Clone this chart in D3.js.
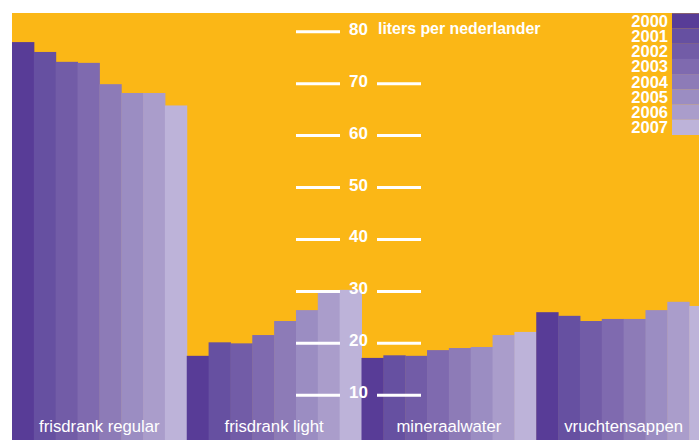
<!DOCTYPE html>
<html>
<head>
<meta charset="utf-8">
<script src="https://cdn.jsdelivr.net/npm/d3@7"></script>
<style>
  html, body { margin: 0; padding: 0; background: #fff; }
  svg { display: block; }
  text { font-family: "Liberation Sans", Arial, sans-serif; fill: #fff; }
</style>
</head>
<body>
<script>
// data (liters per person)
var categories = ['frisdrank regular', 'frisdrank light', 'mineraalwater', 'vruchtensappen']
var years = ['2000', '2001', '2002', '2003', '2004', '2005', '2006', '2007']
var regular = [78.0, 76.1, 74.2, 74.0, 69.9, 68.2, 68.2, 65.8]
var light = [17.6, 20.2, 20.0, 21.6, 24.3, 26.4, 29.9, 30.3]
var water = [17.2, 17.7, 17.6, 18.7, 19.1, 19.3, 21.6, 22.2]
var juice = [26.0, 25.3, 24.3, 24.7, 24.7, 26.4, 28.0, 27.2]
var ticks = [10, 20, 30, 40, 50, 60, 70, 80]
var colors = ['#583c97', '#6650a1', '#725ca7', '#7f6aaf', '#8d7bb7', '#9b8dc2', '#aa9dcb', '#bdb3d9']

var series = [regular, light, water, juice]

var W = 699, H = 440
var svg = d3.select('body').append('svg').attr('width', W).attr('height', H)

svg.append('rect').attr('x', 12).attr('y', 13).attr('width', W - 12).attr('height', H - 13)
  .attr('fill', '#fbb716')

var x0 = d3.scaleBand().domain(categories).range([12, 711])
var x1 = d3.scaleBand().domain(years).range([0, x0.bandwidth()])
var y = d3.scaleLinear().domain([10, 80]).range([395.3, 31.7])

var clip = svg.append('clipPath').attr('id', 'c')
clip.append('rect').attr('x', 12).attr('y', 13).attr('width', W - 12).attr('height', H - 13)

var groups = svg.append('g').attr('clip-path', 'url(#c)')
  .selectAll('g')
  .data(series)
  .enter()
  .append('g')
  .attr('transform', function (d, i) { return 'translate(' + x0(categories[i]) + ',0)' })

groups.selectAll('rect')
  .data(function (d) { return d })
  .enter()
  .append('rect')
  .attr('x', function (d, i) { return x1(years[i]) })
  .attr('width', x1.bandwidth() + 0.5)
  .attr('y', function (d) { return y(d) })
  .attr('height', function (d) { return H - y(d) })
  .attr('fill', function (d, i) { return colors[i] })

// category labels
svg.selectAll('text.cat')
  .data(categories)
  .enter()
  .append('text')
  .attr('class', 'cat')
  .attr('x', function (d) { return x0(d) + x0.bandwidth() / 2 })
  .attr('y', 432)
  .attr('text-anchor', 'middle')
  .style('font-size', '16.7px')
  .text(function (d) { return d })

// axis in the middle
var axis = svg.append('g')
var tk = axis.selectAll('g').data(ticks).enter().append('g')
  .attr('transform', function (d) { return 'translate(0,' + y(d) + ')' })

tk.append('line').attr('x1', 296).attr('x2', 340).attr('stroke', '#fff').attr('stroke-width', 3)
tk.filter(function (d) { return d !== 80 })
  .append('line').attr('x1', 377).attr('x2', 421).attr('stroke', '#fff').attr('stroke-width', 3)
tk.append('text')
  .attr('x', 358.5)
  .attr('y', 3)
  .attr('text-anchor', 'middle')
  .style('font-size', '17px')
  .style('font-weight', 'bold')
  .text(function (d) { return d })

axis.append('text')
  .attr('x', 378)
  .attr('y', y(80) + 1.8)
  .style('font-size', '15.9px')
  .style('font-weight', 'bold')
  .text('liters per nederlander')

// legend
var lg = svg.append('g').selectAll('g').data(years).enter().append('g')
  .attr('transform', function (d, i) { return 'translate(0,' + (13.3 + i * 15.2) + ')' })
lg.append('rect').attr('x', 672).attr('width', 27).attr('height', 15.3)
  .attr('fill', function (d, i) { return colors[i] })
lg.append('text')
  .attr('x', 668)
  .attr('y', 13.4)
  .attr('text-anchor', 'end')
  .style('font-size', '16.5px')
  .style('font-weight', 'bold')
  .text(function (d) { return d })
</script>
</body>
</html>
